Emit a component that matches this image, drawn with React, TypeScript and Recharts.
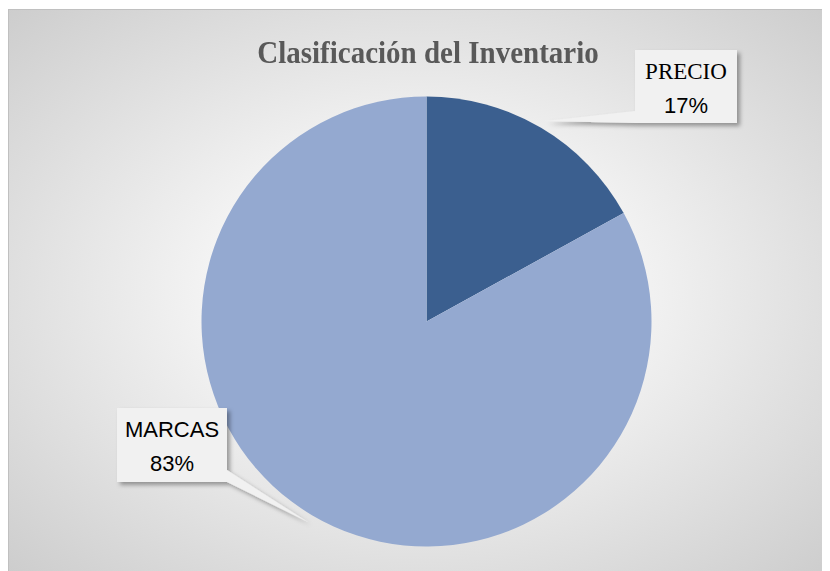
import React from "react";
import { PieChart, Pie, Cell } from "recharts";

const categories = ["PRECIO", "MARCAS"];
const values = [17, 83];
const colors = ["#3B5F8F", "#94A9D0"];

const data = categories.map((name, i) => ({ name, value: values[i] }));

// label callout boxes, relative to the pie centre
const labelBoxes = [
  { dx: 208.5, dy: -271.5, w: 102, h: 73 },
  { dx: -309.5, dy: 86.5, w: 110, h: 74 },
];

const RAD = Math.PI / 180;

function renderLabel(props: any) {
  const { cx, cy, midAngle, outerRadius, percent, name, index } = props;
  const box = labelBoxes[index];
  const L = cx + box.dx;
  const T = cy + box.dy;
  const R = L + box.w;
  const B = T + box.h;
  const tipR = outerRadius + 8;
  const tx = cx + tipR * Math.cos(-midAngle * RAD);
  const ty = cy + tipR * Math.sin(-midAngle * RAD);
  const base = T + box.h - 12;
  const d =
    tx > L + box.w / 2
      ? `M${L},${T} H${R} V${base} L${tx},${ty} L${R},${B} H${L} Z`
      : `M${L},${T} H${R} V${B} H${L} L${tx},${ty} L${L},${base} Z`;
  const mid = L + box.w / 2;
  const serif = name === "PRECIO";
  return (
    <g key={`lbl-${index}`}>
      <defs>
        <filter id={`shadow-${index}`} x="-20%" y="-20%" width="150%" height="150%">
          <feDropShadow dx="3" dy="3" stdDeviation="2" floodColor="#000" floodOpacity="0.35" />
        </filter>
      </defs>
      <path d={d} fill="#f1f1f1" filter={`url(#shadow-${index})`} />
      <text
        x={mid}
        y={T + 29}
        textAnchor="middle"
        fill="#000"
        fontSize={serif ? 23 : 22}
        fontFamily={serif ? "'Liberation Serif', 'Times New Roman', serif" : "'Liberation Sans', Arial, sans-serif"}
      >
        {name}
      </text>
      <text
        x={mid}
        y={T + 63}
        textAnchor="middle"
        fill="#000"
        fontSize={22}
        fontFamily="'Liberation Sans', Arial, sans-serif"
      >
        {`${Math.round(percent * 100)}%`}
      </text>
    </g>
  );
}

export default function App() {
  return (
    <div
      style={{
        position: "relative",
        marginTop: 1,
        width: 822,
        height: 562,
        background: "radial-gradient(ellipse at 50% 50%, #ffffff 0%, #f4f4f4 35%, #cdcdcd 100%)",
        boxShadow: "inset 1px 1px 0 #c0c0c0",
      }}
    >
      <div
        style={{
          position: "absolute",
          top: 29,
          left: 9,
          width: 822,
          textAlign: "center",
          fontFamily: "'Liberation Serif', 'Times New Roman', serif",
          fontWeight: "bold",
          fontSize: 29,
          lineHeight: "30px",
          color: "#595959",
          transform: "scaleY(1.1)",
          transformOrigin: "50% 85%",
        }}
      >
        Clasificación del Inventario
      </div>
      <PieChart
        width={822}
        height={562}
        margin={{ top: 0, right: 0, bottom: 0, left: 0 }}
        style={{ position: "absolute", top: 0, left: 0 }}
      >
        <Pie
          data={data}
          dataKey="value"
          nameKey="name"
          cx={418.5}
          cy={312.5}
          outerRadius={225}
          startAngle={90}
          endAngle={-270}
          stroke="none"
          label={renderLabel}
          labelLine={false}
          isAnimationActive={false}
        >
          {data.map((d, i) => (
            <Cell key={d.name} fill={colors[i]} />
          ))}
        </Pie>
      </PieChart>
    </div>
  );
}
